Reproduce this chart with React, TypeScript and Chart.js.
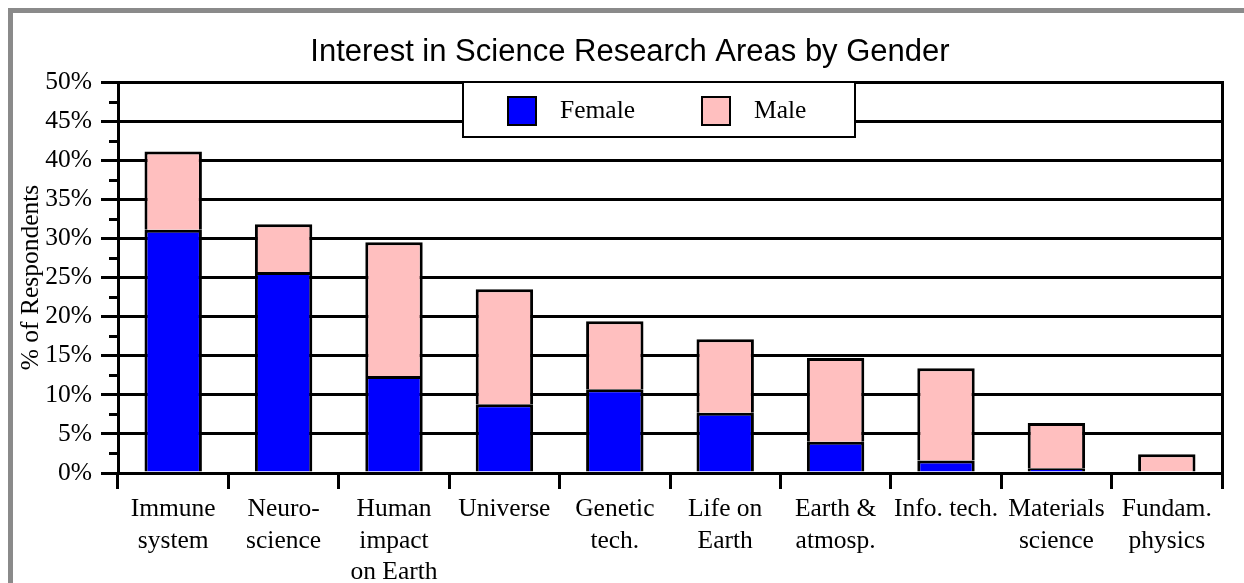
import React, { useEffect, useRef } from "react";
import { Chart, registerables } from "chart.js";

Chart.register(...registerables);

const TITLE = "Interest in Science Research Areas by Gender";
const Y_TITLE = "% of Respondents";
const categories: string[][] = [
  ["Immune", "system"],
  ["Neuro-", "science"],
  ["Human", "impact", "on Earth"],
  ["Universe"],
  ["Genetic", "tech."],
  ["Life on", "Earth"],
  ["Earth &", "atmosp."],
  ["Info. tech."],
  ["Materials", "science"],
  ["Fundam.", "physics"],
];
const female = [31.1, 25.7, 12.4, 8.8, 10.7, 7.7, 4.0, 1.6, 0.6, 0];
const male = [10.0, 6.1, 17.1, 14.7, 8.7, 9.4, 10.7, 11.8, 5.8, 2.4];
const seriesNames = ["Female", "Male"];
const seriesColors = ["#0000ff", "#ffbfbf"];

const SERIF = '"Liberation Serif", "Times New Roman", serif';
const SANS = '"Liberation Sans", Arial, sans-serif';

const extras = {
  id: "extras",
  afterDraw(chart: any) {
    const { ctx, chartArea, scales } = chart;
    const y = scales.y;
    ctx.save();
    // minor ticks
    ctx.strokeStyle = "#000";
    ctx.lineWidth = 3;
    for (let v = 2.5; v < 50; v += 5) {
      const py = Math.round(y.getPixelForValue(v)) + 0.5;
      ctx.beginPath();
      ctx.moveTo(chartArea.left - 9, py);
      ctx.lineTo(chartArea.left, py);
      ctx.stroke();
    }
    // right border
    ctx.beginPath();
    ctx.moveTo(chartArea.right + 0.5, chartArea.top - 1);
    ctx.lineTo(chartArea.right + 0.5, chartArea.bottom);
    ctx.stroke();
    // title
    ctx.fillStyle = "#000";
    ctx.font = `31px ${SANS}`;
    ctx.textAlign = "center";
    ctx.textBaseline = "alphabetic";
    ctx.fillText(TITLE, 617, 48);
    // legend box
    ctx.fillStyle = "#fff";
    ctx.fillRect(450, 69, 393, 56);
    ctx.lineWidth = 2;
    ctx.strokeStyle = "#000";
    ctx.strokeRect(450, 69, 392, 55);
    const items = [
      { sx: 495, tx: 547 },
      { sx: 689, tx: 741 },
    ];
    ctx.font = `25.5px ${SERIF}`;
    ctx.textAlign = "left";
    items.forEach((it, i) => {
      ctx.fillStyle = seriesColors[i];
      ctx.fillRect(it.sx, 84, 28, 28);
      ctx.lineWidth = 2;
      ctx.strokeStyle = "#000";
      ctx.strokeRect(it.sx, 84, 28, 28);
      ctx.fillStyle = "#000";
      ctx.fillText(seriesNames[i], it.tx, 104.5);
    });
    ctx.restore();
  },
};

export default function App() {
  const ref = useRef<HTMLCanvasElement>(null);
  useEffect(() => {
    if (!ref.current) return;
    const chart = new Chart(ref.current, {
      type: "bar",
      data: {
        labels: categories,
        datasets: [
          {
            label: seriesNames[0],
            data: female,
            backgroundColor: seriesColors[0],
            borderColor: "#000",
            borderWidth: 3,
            borderSkipped: "bottom",
          },
          {
            label: seriesNames[1],
            data: male,
            backgroundColor: seriesColors[1],
            borderColor: "#000",
            borderWidth: 3,
            borderSkipped: "bottom",
          },
        ],
      },
      options: {
        responsive: false,
        animation: false,
        devicePixelRatio: 1,
        layout: { padding: { top: 69, right: 22, left: 0, bottom: 0 } },
        plugins: {
          legend: { display: false },
          title: { display: false },
          tooltip: { enabled: false },
        },
        datasets: {
          bar: { categoryPercentage: 1, barPercentage: 0.52 },
        },
        scales: {
          x: {
            stacked: true,
            offset: true,
            afterFit: (s: any) => {
              s.height = 110;
            },
            grid: {
              offset: true,
              drawOnChartArea: false,
              drawTicks: true,
              tickLength: 16,
              color: "#000",
              lineWidth: 3,
            },
            border: { display: true, color: "#000", width: 3 },
            ticks: {
              color: "#000",
              autoSkip: false,
              maxRotation: 0,
              minRotation: 0,
              padding: 5,
              font: { family: SERIF, size: 25.5, lineHeight: 1.23 },
            },
          },
          y: {
            stacked: true,
            min: 0,
            max: 50,
            afterFit: (s: any) => {
              s.width = 105;
            },
            grid: {
              color: "#000",
              lineWidth: 3,
              tickLength: 17,
              drawTicks: true,
            },
            border: { display: true, color: "#000", width: 3 },
            ticks: {
              stepSize: 5,
              color: "#000",
              padding: 9,
              font: { family: SERIF, size: 25.5 },
              callback: (v: any) => `${v}%`,
            },
            title: {
              display: true,
              text: Y_TITLE,
              color: "#000",
              padding: { top: 3, bottom: 0 },
              font: { family: SERIF, size: 25.5, lineHeight: 1.2 },
            },
          },
        },
      },
      plugins: [extras],
    });
    return () => chart.destroy();
  }, []);
  return (
    <div
      style={{
        position: "fixed",
        left: 8,
        top: 8,
        width: 1236,
        height: 575,
        boxSizing: "border-box",
        borderTop: "5px solid #8a8a8a",
        borderLeft: "5px solid #8a8a8a",
        background: "#fff",
      }}
    >
      <canvas ref={ref} width={1231} height={570} style={{ display: "block" }} />
    </div>
  );
}
